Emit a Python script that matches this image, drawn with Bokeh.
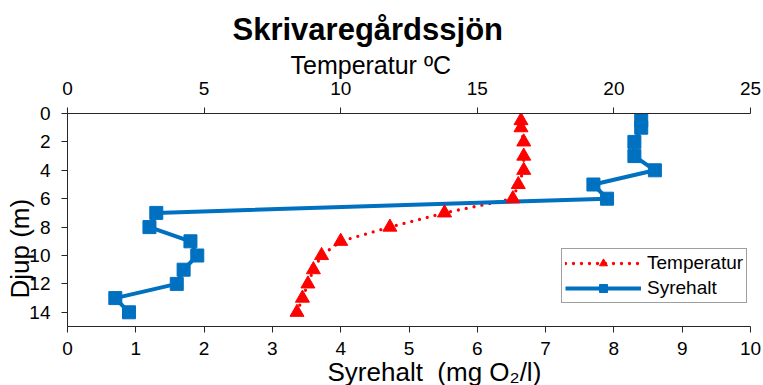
from bokeh.plotting import figure
from bokeh.models import (Range1d, LinearAxis, FixedTicker, Title, Legend, LegendItem)
from bokeh.embed import file_html
from bokeh.resources import INLINE

depth = [0.5, 1, 2, 3, 4, 5, 6, 7, 8, 9, 10, 11, 12, 13, 14]
temperatur = [16.6, 16.6, 16.7, 16.7, 16.7, 16.5, 16.3, 13.8, 11.8, 10.0, 9.3, 9.0, 8.8, 8.6, 8.4]
syrehalt = [8.4, 8.4, 8.3, 8.3, 8.6, 7.7, 7.9, 1.3, 1.2, 1.8, 1.9, 1.7, 1.6, 0.7, 0.9]

bottom_ticks = [0, 1, 2, 3, 4, 5, 6, 7, 8, 9, 10]
top_ticks = [0, 5, 10, 15, 20, 25]
depth_ticks = [0, 2, 4, 6, 8, 10, 12, 14]

FONT = "Liberation Sans"
RED = "#FF0000"
BLUE = "#0070C0"

p = figure(width=763, height=385, x_range=Range1d(0, 10), y_range=Range1d(15, 0),
           output_backend="svg", toolbar_location=None, title=None,
           min_border_left=67, min_border_right=13, min_border_top=113, min_border_bottom=59)
p.extra_x_ranges = {"temp": Range1d(0, 25)}
p.xgrid.visible = False
p.ygrid.visible = False
p.outline_line_color = None
p.background_fill_color = "white"
p.border_fill_color = "white"

def style_axis(ax, ticks):
    ax.ticker = FixedTicker(ticks=ticks)
    ax.major_tick_in = 0
    ax.major_tick_out = 6
    ax.minor_tick_in = 0
    ax.minor_tick_out = 0
    ax.axis_line_color = "#262626"
    ax.major_tick_line_color = "#262626"
    ax.major_label_text_font = FONT
    ax.major_label_text_font_size = "19px"
    ax.major_label_text_color = "#000000"

xb = p.xaxis[0]
style_axis(xb, bottom_ticks)
xb.major_label_standoff = 9
yl = p.yaxis[0]
style_axis(yl, depth_ticks)
yl.major_label_standoff = 11

xt = LinearAxis(x_range_name="temp")
style_axis(xt, top_ticks)
xt.major_label_standoff = 13
p.add_layout(xt, "above")

# lines
rl = p.line(temperatur, depth, x_range_name="temp", line_color=RED, line_width=3.3,
            line_dash="0 8", line_cap="round")
bl = p.line(syrehalt, depth, line_color=BLUE, line_width=4, line_join="round")
# markers
rs = p.scatter(temperatur, depth, x_range_name="temp", marker="triangle", size=14,
               fill_color=RED, line_color=RED)
bs = p.scatter(syrehalt, depth, marker="square", size=13, fill_color=BLUE, line_color=BLUE)

legend = Legend(items=[LegendItem(label="Temperatur", renderers=[rl, rs]),
                       LegendItem(label="Syrehalt", renderers=[bl, bs])],
                location=(494, 23), margin=0, padding=3, spacing=3,
                glyph_width=76, glyph_height=20, label_height=20, label_standoff=6,
                label_text_font=FONT, label_text_font_size="19px",
                label_text_color="#000000",
                border_line_color="#404040", border_line_width=1,
                background_fill_color="white", background_fill_alpha=1)
p.add_layout(legend, "center")

def title(text, side, size, offset, standoff, bold=False):
    p.add_layout(Title(text=text, align="left", offset=offset, standoff=standoff,
                       text_font=FONT, text_font_size=size,
                       text_font_style="bold" if bold else "normal",
                       text_color="#000000"), side)

title("Temperatur ºC", "above", "25px", 223, 0)
title("Skrivaregårdssjön", "above", "31px", 165, 4, bold=True)
title("Syrehalt\u00a0 (mg O₂/l)", "below", "26px", 260, -6)
title("Djup (m)", "left", "26px", 28, -16)

open("out.html", "w").write(file_html(p, INLINE))
